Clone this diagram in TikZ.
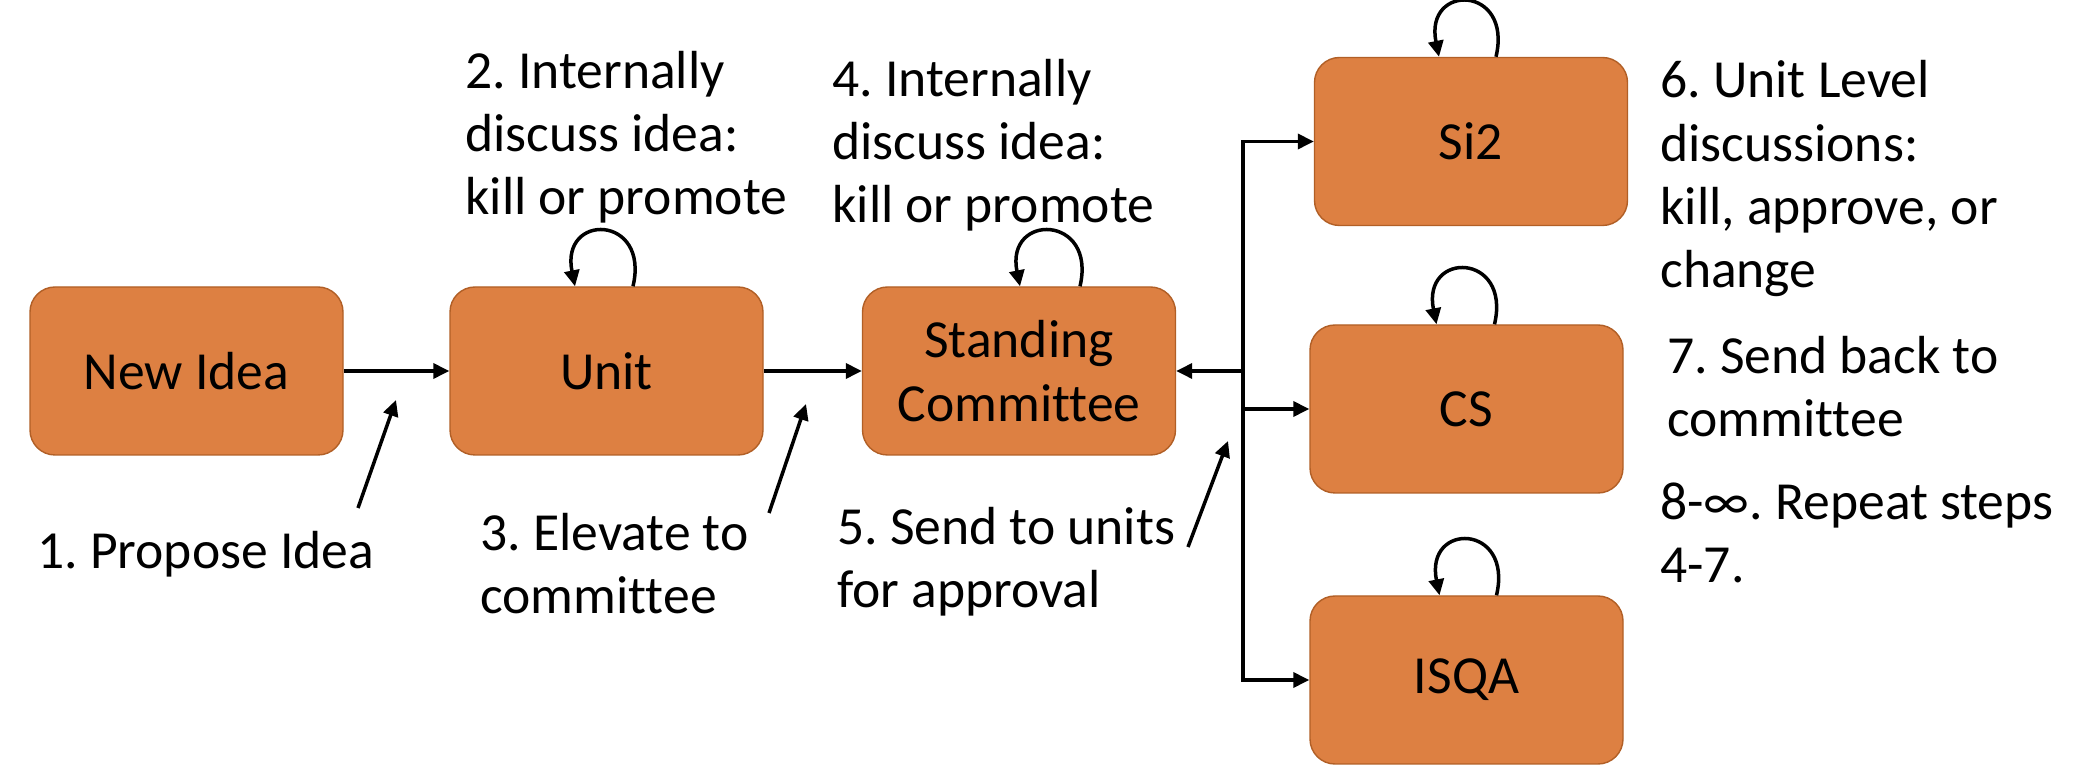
\documentclass[tikz,border=0pt]{standalone}
\usepackage{fontspec}
\setmainfont{Carlito}[Ligatures=NoCommon]
\usetikzlibrary{arrows.meta}

\definecolor{boxfill}{RGB}{221,128,66}
\definecolor{boxedge}{RGB}{177,95,38}

\tikzset{
	box/.style={draw=boxedge, fill=boxfill, line width=0.8pt, rounded corners=0.5cm,
		minimum width=6.26cm, minimum height=3.36cm, align=center, inner sep=0},
	note/.style={anchor=base west, align=left, inner sep=0},
	flow/.style={line width=0.07cm, -{Triangle[length=0.32cm, width=0.3cm]}},
}

\begin{document}
\frenchspacing
\begin{tikzpicture}[font=\fontsize{30.5}{36.1}\selectfont]
		\useasboundingbox (0, 0) rectangle (41.94, 15.3);

		% the chain of boxes
		\node [box] (idea) at (3.73, 7.88) {New Idea};
		\node [box] (unit) at (12.13, 7.88) {Unit};
		\node [box] (sc) at (20.38, 7.88) {Standing\\Committee};
		\node [box] (si2) at (29.42, 12.47) {Si2};
		\node [box] (cs) at (29.33, 7.12) {CS};
		\node [box] (isqa) at (29.33, 1.70) {ISQA};

		\draw [flow] (idea) -- (unit);
		\draw [flow] (unit) -- (sc);

		% fork between committee and units
		\coordinate (hub) at (24.86, 7.88);
		\draw [flow] (hub) -- (sc);
		\draw [flow] (hub) |- (si2);
		\draw [flow] (hub) |- (isqa);
		\draw [flow] (hub |- cs) -- (cs);

		% self loops
		\draw [flow] ([xshift=0.53cm]unit.north) .. controls +(0.34, 1.44) and +(-0.3, 1.48) .. ([xshift=-0.63cm]unit.north);
		\draw [flow] ([xshift=1.22cm]sc.north) .. controls +(0.34, 1.44) and +(-0.3, 1.48) .. ([xshift=0.02cm]sc.north);
		\draw [flow] ([xshift=0.5cm]si2.north) .. controls +(0.34, 1.44) and +(-0.3, 1.48) .. ([xshift=-0.64cm]si2.north);
		\draw [flow] ([xshift=0.56cm]cs.north) .. controls +(0.34, 1.44) and +(-0.3, 1.48) .. ([xshift=-0.6cm]cs.north);
		\draw [flow] ([xshift=0.6cm]isqa.north) .. controls +(0.34, 1.44) and +(-0.3, 1.48) .. ([xshift=-0.54cm]isqa.north);

		% step notes (anchored on their last line)
		\node [note] (t1) at (0.74, 3.92) {1. Propose Idea};
		\node [note] (t2) at (9.30, 11.00) {2. Internally\\discuss idea:\\kill or promote};
		\node [note] (t3) at (9.60, 3.02) {3. Elevate to\\committee};
		\node [note] (t4) at (16.64, 10.84) {4. Internally\\discuss idea:\\kill or promote};
		\node [note] (t5) at (16.74, 3.14) {5. Send to units\\for approval};
		\node [note] (t6) at (33.20, 9.54) {6. Unit Level\\discussions:\\kill, approve, or\\change};
		\node [note] (t7) at (33.34, 6.56) {7. Send back to\\committee};
		\node [note] (t8) at (33.20, 3.64) {8-∞. Repeat steps\\4-7.};

		% pointers from notes to connectors
		\coordinate (p1) at (7.16, 5.14);
		\coordinate (q1) at (7.92, 7.30);
		\coordinate (p3) at (15.38, 5.04);
		\coordinate (q3) at (16.12, 7.22);
		\coordinate (p5) at (23.76, 4.36);
		\coordinate (q5) at (24.56, 6.48);
		\draw [flow] (p1) -- (q1);
		\draw [flow] (p3) -- (q3);
		\draw [flow] (p5) -- (q5);
	\end{tikzpicture}
\end{document}
